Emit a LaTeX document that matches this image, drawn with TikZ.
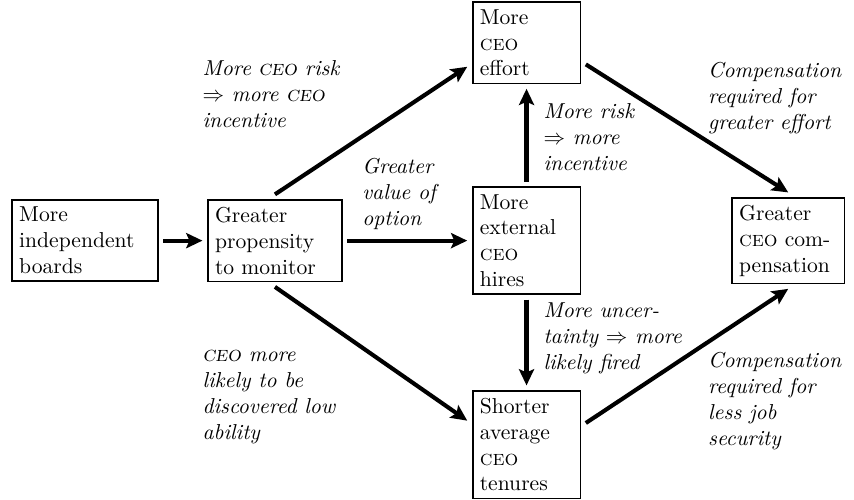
\documentclass[tikz,border=0pt]{standalone}
\usepackage{amssymb,amsmath}
\usepackage{tikz}
\usetikzlibrary{arrows.meta,positioning}

\tikzset{
  box/.style={draw, thick, align=left, outer sep=2.5pt},
  lbl/.style={anchor=north west, align=left, font=\itshape, inner sep=0pt},
  link/.style={-{Stealth[length=7.5pt,width=7pt,inset=1.5pt]}, line width=1.9pt}
}

\begin{document}
\begin{tikzpicture}
    \useasboundingbox (0,0) rectangle (13.9,8.137);
 %the boxes
    \node[box, text width=2.14cm] (boards) at (1.383,4.22) {More\\ independent\\ boards};
    \node[box, text width=1.95cm] (monitor) at (4.475,4.22) {Greater\\ propensity\\ to monitor};
    \node[box, text width=1.52cm] (hires) at (8.57,4.22) {More\\ external\\ \textsc{ceo}\\ hires};
    \node[box, text width=1.52cm] (effort) at (8.57,7.44) {More\\ \textsc{ceo}\\ effort};
    \node[box, text width=1.52cm] (tenures) at (8.57,0.9) {Shorter\\ average\\ \textsc{ceo}\\ tenures};
    \node[box, text width=1.6cm] (pay) at (12.83,4.22) {Greater\\ \textsc{ceo} com-\\ pensation};

 %the arrows
    \draw[link] (boards) -- (monitor);
    \draw[link] (monitor) -- (hires);
    \draw[link] (monitor.north) -- (effort.202);
    \draw[link] (monitor.south) -- (tenures.158);
    \draw[link] (hires) -- (effort);
    \draw[link] (hires) -- (tenures);
    \draw[link] (effort.-20) -- (pay.north);
    \draw[link] (tenures.20) -- (pay.south);

 %the reasons
    \node[lbl] (riskceo) at (3.29,7.16) {More \textsc{ceo} risk\\ $\Rightarrow$ more \textsc{ceo}\\ incentive};
    \node[lbl] (option) at (5.89,5.57) {Greater\\ value of\\ option};
    \node[lbl] (risk) at (8.84,6.46) {More risk\\ $\Rightarrow$ more\\ incentive};
    \node[lbl] (payeffort) at (11.52,7.13) {Compensation\\ required for\\ greater effort};
    \node[lbl] (uncertain) at (8.84,3.21) {More uncer-\\ tainty $\Rightarrow$ more\\ likely fired};
    \node[lbl] (lowability) at (3.29,2.44) {\textsc{ceo} more\\ likely to be\\ discovered low\\ ability};
    \node[lbl] (paysecurity) at (11.52,2.41) {Compensation\\ required for\\ less job\\ security};
\end{tikzpicture}
\end{document}
